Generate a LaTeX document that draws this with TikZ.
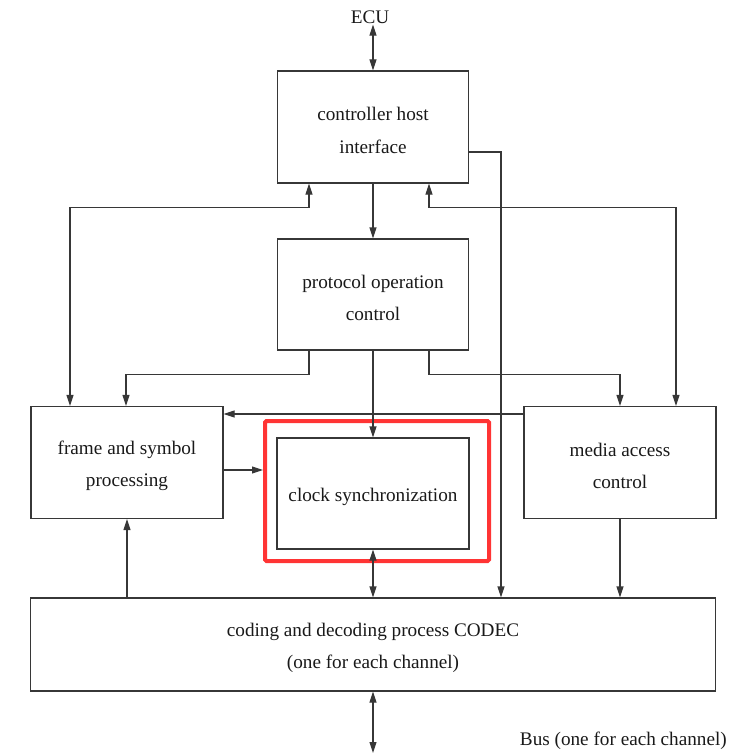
\documentclass[tikz,border=0pt]{standalone}
\usepackage{fontspec}
\setmainfont{Liberation Serif}
\usetikzlibrary{arrows.meta}
\definecolor{linegray}{RGB}{55,55,55}
\definecolor{textgray}{RGB}{25,25,25}
\definecolor{hilite}{RGB}{255,52,52}
\begin{document}
\begin{tikzpicture}[x=1pt,y=-1pt,
  blk/.style={draw=linegray, line width=1.1pt, minimum width=191pt,
    minimum height=112pt, align=center, inner sep=0pt, text=textgray,
    text height=53pt, font=\fontsize{19.2}{32.5}\selectfont},
  oneline/.style={text height=20.5pt},
  lbl/.style={text=textgray, inner sep=1pt, font=\fontsize{19.2}{32.5}\selectfont},
  link/.style={draw=linegray, line width=1.1pt,
    -{Triangle[length=11pt,width=7pt]}},
  both/.style={draw=linegray, line width=1.1pt,
    {Triangle[length=11pt,width=7pt]}-{Triangle[length=11pt,width=7pt]}},
  mark box/.style={draw=hilite, line width=4pt, rounded corners=1.5pt,
    minimum width=224pt, minimum height=140pt, inner sep=0pt}
  ]
  \useasboundingbox (0,0) rectangle (728,754);

  % blocks
  \node[lbl] (ECU) at (370,17) {ECU};
  \node[blk] (CHI) at (373,127) {controller host\\interface};
  \node[blk, minimum height=111pt] (POC) at (373,294.5) {protocol operation\\control};
  \node[blk, minimum width=192pt] (FSP) at (127,462.5) {frame and symbol\\processing};
  \node[blk, minimum width=192pt] (MAC) at (620,462.5) {media access\\control};
  \node[mark box] (RED) at (377,491) {};
  \node[blk, oneline, minimum width=192pt, minimum height=111pt] (CS) at (373,493.5) {clock synchronization};
  \node[blk, minimum width=685pt, minimum height=93pt] (CODEC) at (373,644.5)
    {coding and decoding process CODEC\\(one for each channel)};
  \node[lbl, anchor=east] (BUS) at (728,741) {Bus (one for each channel)};
  \coordinate (busEnd) at (373,753);

  % host interface
  \draw[both] (ECU.south -| CHI.north) -- (CHI.north);
  \draw[link] (CHI.south) -- (POC.north);
  \draw[link] ([yshift=-25pt]CHI.east) -| ([xshift=128pt]CODEC.north);
  \draw[both] ([xshift=-64pt]CHI.south) -- ++(0,24) -| ([xshift=-57pt]FSP.north);
  \draw[both] ([xshift=56pt]CHI.south) -- ++(0,24) -| ([xshift=56pt]MAC.north);

  % protocol operation control
  \draw[link] ([xshift=-64pt]POC.south) -- ++(0,24) -| ([xshift=-1pt]FSP.north);
  \draw[link] ([xshift=56pt]POC.south) -- ++(0,24) -| (MAC.north);
  \draw[link] (POC.south) -- (CS.north);

  % processing blocks
  \draw[link] ([yshift=48.5pt]MAC.west) -- ([yshift=48.5pt]FSP.east);
  \draw[link] ([yshift=-7.5pt]FSP.east) -- ([yshift=21pt]RED.west);
  \draw[both] (CS.south) -- (CODEC.north);
  \draw[link] (CODEC.north -| FSP.south) -- (FSP.south);
  \draw[link] (MAC.south) -- (MAC.south |- CODEC.north);

  % bus
  \draw[both] (CODEC.south) -- (busEnd);
\end{tikzpicture}
\end{document}
